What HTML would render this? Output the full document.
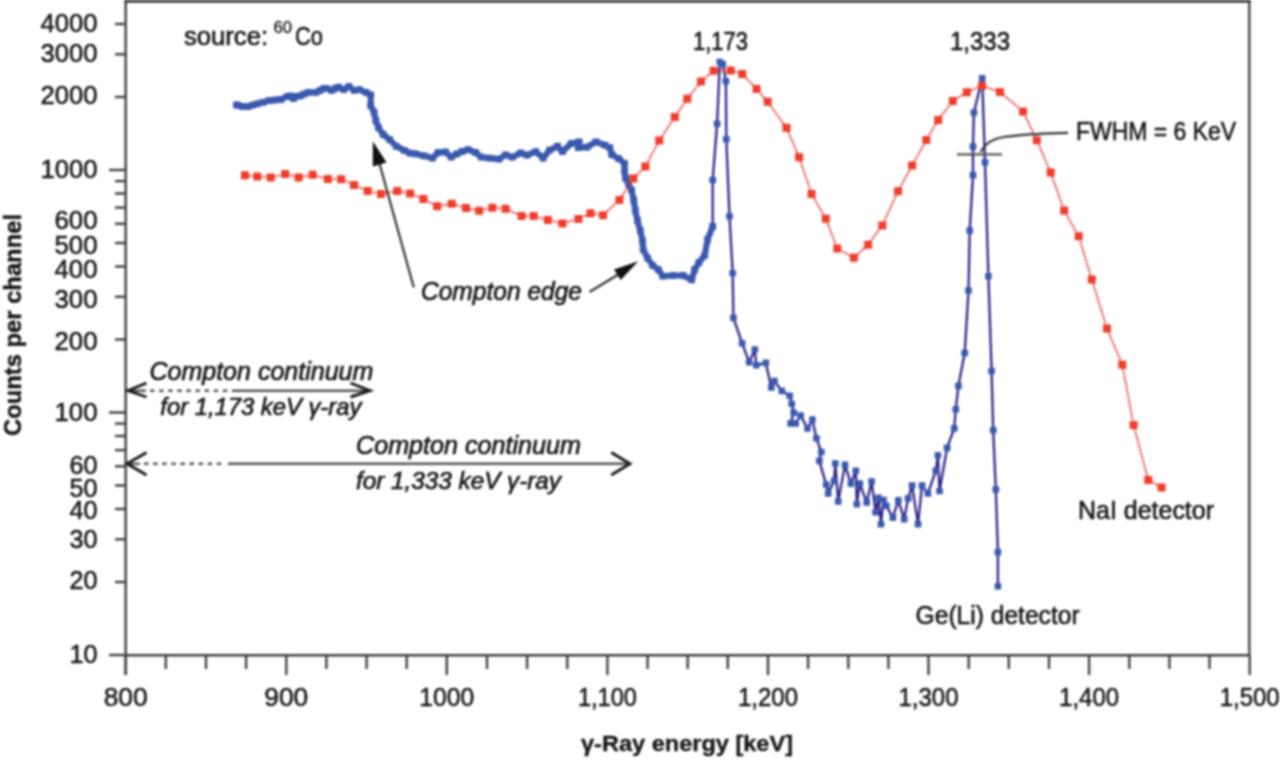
<!DOCTYPE html>
<html><head><meta charset="utf-8"><title>Gamma-ray spectrum</title>
<style>html,body{margin:0;padding:0;background:#fff;overflow:hidden}svg{display:block;font-family:"Liberation Sans",sans-serif;filter:blur(0.85px)}</style>
</head><body>
<svg width="1280" height="760" viewBox="0 0 1280 760">
<rect width="1280" height="760" fill="#fff"/>
<g stroke="#404040" stroke-width="2.4" fill="none">
<path d="M125.7,1 H1249.3 V655.3 H125.7 Z"/><path d="M124.5,0.8 H1250.5" stroke="#2a2a2a" stroke-width="3.2"/>
<path d="M125.7,655.3 V675"/>
<path d="M115,24.0 H125.7"/>
<path d="M115,54.3 H125.7"/>
<path d="M115,97.0 H125.7"/>
<path d="M109,170.0 H125.7"/>
<path d="M115,223.8 H125.7"/>
<path d="M115,243.0 H125.7"/>
<path d="M115,266.5 H125.7"/>
<path d="M115,296.8 H125.7"/>
<path d="M115,339.5 H125.7"/>
<path d="M109,412.5 H125.7"/>
<path d="M115,466.3 H125.7"/>
<path d="M115,485.5 H125.7"/>
<path d="M115,509.0 H125.7"/>
<path d="M115,539.3 H125.7"/>
<path d="M115,582.0 H125.7"/>
<path d="M109,655.0 H125.7"/>
<path d="M115,181.1 H125.7"/>
<path d="M115,193.5 H125.7"/>
<path d="M115,207.6 H125.7"/>
<path d="M115,423.6 H125.7"/>
<path d="M115,436.0 H125.7"/>
<path d="M115,450.1 H125.7"/>
<path d="M125.7,655.3 V675"/>
<path d="M165.8,655.3 V669"/>
<path d="M206.0,655.3 V669"/>
<path d="M246.1,655.3 V669"/>
<path d="M286.3,655.3 V675"/>
<path d="M326.4,655.3 V669"/>
<path d="M366.6,655.3 V669"/>
<path d="M406.7,655.3 V669"/>
<path d="M446.8,655.3 V675"/>
<path d="M487.0,655.3 V669"/>
<path d="M527.1,655.3 V669"/>
<path d="M567.3,655.3 V669"/>
<path d="M607.4,655.3 V675"/>
<path d="M647.6,655.3 V669"/>
<path d="M687.7,655.3 V669"/>
<path d="M727.8,655.3 V669"/>
<path d="M768.0,655.3 V675"/>
<path d="M808.1,655.3 V669"/>
<path d="M848.3,655.3 V669"/>
<path d="M888.4,655.3 V669"/>
<path d="M928.5,655.3 V675"/>
<path d="M968.7,655.3 V669"/>
<path d="M1008.8,655.3 V669"/>
<path d="M1049.0,655.3 V669"/>
<path d="M1089.1,655.3 V675"/>
<path d="M1129.3,655.3 V669"/>
<path d="M1169.4,655.3 V669"/>
<path d="M1209.5,655.3 V669"/>
<path d="M1249.7,655.3 V675"/>
</g>
<g font-family="Liberation Sans, sans-serif" font-size="25" fill="#151515" stroke="#151515" stroke-width="0.5" text-anchor="end">
<text x="97.5" y="31.8" textLength="57" lengthAdjust="spacingAndGlyphs">4000</text>
<text x="97.5" y="61.8" textLength="57" lengthAdjust="spacingAndGlyphs">3000</text>
<text x="97.5" y="103.8" textLength="57" lengthAdjust="spacingAndGlyphs">2000</text>
<text x="97.5" y="178.0" textLength="57" lengthAdjust="spacingAndGlyphs">1000</text>
<text x="97.5" y="228.7" textLength="43" lengthAdjust="spacingAndGlyphs">600</text>
<text x="97.5" y="254.3" textLength="43" lengthAdjust="spacingAndGlyphs">500</text>
<text x="97.5" y="277.6" textLength="43" lengthAdjust="spacingAndGlyphs">400</text>
<text x="97.5" y="308.0" textLength="43" lengthAdjust="spacingAndGlyphs">300</text>
<text x="97.5" y="350.2" textLength="43" lengthAdjust="spacingAndGlyphs">200</text>
<text x="97.5" y="420.5" textLength="43" lengthAdjust="spacingAndGlyphs">100</text>
<text x="97.5" y="473.8" textLength="28" lengthAdjust="spacingAndGlyphs">60</text>
<text x="97.5" y="496.7" textLength="28" lengthAdjust="spacingAndGlyphs">50</text>
<text x="97.5" y="519.3" textLength="28" lengthAdjust="spacingAndGlyphs">40</text>
<text x="97.5" y="547.8" textLength="28" lengthAdjust="spacingAndGlyphs">30</text>
<text x="97.5" y="589.4" textLength="28" lengthAdjust="spacingAndGlyphs">20</text>
<text x="97.5" y="663.3" textLength="28" lengthAdjust="spacingAndGlyphs">10</text>
</g>
<g font-family="Liberation Sans, sans-serif" font-size="25" fill="#151515" stroke="#151515" stroke-width="0.5" text-anchor="middle">
<text x="125.7" y="706" textLength="44" lengthAdjust="spacingAndGlyphs">800</text>
<text x="286.3" y="706" textLength="44" lengthAdjust="spacingAndGlyphs">900</text>
<text x="446.8" y="706" textLength="55" lengthAdjust="spacingAndGlyphs">1000</text>
<text x="607.4" y="706" textLength="59" lengthAdjust="spacingAndGlyphs">1,100</text>
<text x="768.0" y="706" textLength="60" lengthAdjust="spacingAndGlyphs">1,200</text>
<text x="928.5" y="706" textLength="60" lengthAdjust="spacingAndGlyphs">1,300</text>
<text x="1089.1" y="706" textLength="60" lengthAdjust="spacingAndGlyphs">1,400</text>
<text x="1249.7" y="706" textLength="60" lengthAdjust="spacingAndGlyphs">1,500</text>
</g>
<text x="581" y="751" font-family="Liberation Sans, sans-serif" font-size="21.5" font-weight="bold" fill="#151515" stroke="#151515" stroke-width="0.3" textLength="212" lengthAdjust="spacingAndGlyphs">γ-Ray energy [keV]</text>
<text transform="translate(21,436) rotate(-90)" x="0" y="0" font-family="Liberation Sans, sans-serif" font-size="24" font-weight="bold" fill="#151515" stroke="#151515" stroke-width="0.4" textLength="222" lengthAdjust="spacingAndGlyphs">Counts per channel</text>
<polyline points="236.5,105.0 237.8,105.2 242.5,106.5 248.0,106.7 252.5,105.2 257.3,103.8 263.0,102.3 269.0,100.6 275.0,100.0 280.8,99.5 287.0,96.6 290.5,96.0 293.3,98.5 296.0,96.5 300.3,95.8 304.0,94.2 308.1,92.5 316.0,92.3 320.0,90.5 323.8,88.4 326.5,88.5 331.8,90.4 335.0,88.5 338.4,87.1 343.7,89.7 348.9,86.4 354.2,90.4 359.5,89.7 366.0,92.4 370.7,95.0 370.7,105.5 374.0,112.1 375.9,120.7 378.6,127.9 383.2,134.5 389.7,139.7 396.3,146.3 404.2,150.3 410.0,153.2 415.6,153.9 424.1,155.8 432.5,158.1 438.1,152.5 445.6,152.0 451.2,157.2 456.9,153.9 462.0,151.5 468.1,149.7 475.6,152.5 481.2,157.2 489.7,158.1 499.0,159.1 505.6,154.8 512.2,157.2 520.6,153.0 526.9,155.1 535.8,151.7 543.2,158.1 549.6,150.2 557.5,146.2 562.4,151.7 571.3,143.3 579.2,141.8 578.2,147.7 587.1,147.2 596.0,141.8 604.9,145.2 609.8,147.7 611.8,154.6 618.7,158.6 624.6,163.5 624.6,171.4 625.6,178.3 628.6,184.2 631.6,190.1 633.8,200.3 635.3,210.4 637.4,220.5 640.3,230.6 642.5,240.8 643.2,249.5 647.6,258.1 652.6,265.4 658.4,269.7 662.8,276.2 672.9,275.5 683.0,275.5 691.7,279.9 694.6,269.7 698.9,262.5 704.7,255.3 707.6,239.3 712.7,226.3" fill="none" stroke="#3a59ae" stroke-width="6.1" stroke-linejoin="round" stroke-linecap="round"/>
<g fill="#3a59ae">
<rect x="233.1" y="101.6" width="6.8" height="6.8" rx="0.8"/>
<rect x="234.4" y="101.8" width="6.8" height="6.8" rx="0.8"/>
<rect x="239.1" y="103.1" width="6.8" height="6.8" rx="0.8"/>
<rect x="244.6" y="103.3" width="6.8" height="6.8" rx="0.8"/>
<rect x="249.1" y="101.8" width="6.8" height="6.8" rx="0.8"/>
<rect x="253.9" y="100.4" width="6.8" height="6.8" rx="0.8"/>
<rect x="259.6" y="98.9" width="6.8" height="6.8" rx="0.8"/>
<rect x="265.6" y="97.2" width="6.8" height="6.8" rx="0.8"/>
<rect x="271.6" y="96.6" width="6.8" height="6.8" rx="0.8"/>
<rect x="277.4" y="96.1" width="6.8" height="6.8" rx="0.8"/>
<rect x="283.6" y="93.2" width="6.8" height="6.8" rx="0.8"/>
<rect x="287.1" y="92.6" width="6.8" height="6.8" rx="0.8"/>
<rect x="289.9" y="95.1" width="6.8" height="6.8" rx="0.8"/>
<rect x="292.6" y="93.1" width="6.8" height="6.8" rx="0.8"/>
<rect x="296.9" y="92.4" width="6.8" height="6.8" rx="0.8"/>
<rect x="300.6" y="90.8" width="6.8" height="6.8" rx="0.8"/>
<rect x="304.7" y="89.1" width="6.8" height="6.8" rx="0.8"/>
<rect x="312.6" y="88.9" width="6.8" height="6.8" rx="0.8"/>
<rect x="316.6" y="87.1" width="6.8" height="6.8" rx="0.8"/>
<rect x="320.4" y="85.0" width="6.8" height="6.8" rx="0.8"/>
<rect x="323.1" y="85.1" width="6.8" height="6.8" rx="0.8"/>
<rect x="328.4" y="87.0" width="6.8" height="6.8" rx="0.8"/>
<rect x="331.6" y="85.1" width="6.8" height="6.8" rx="0.8"/>
<rect x="335.0" y="83.7" width="6.8" height="6.8" rx="0.8"/>
<rect x="340.3" y="86.3" width="6.8" height="6.8" rx="0.8"/>
<rect x="345.5" y="83.0" width="6.8" height="6.8" rx="0.8"/>
<rect x="350.8" y="87.0" width="6.8" height="6.8" rx="0.8"/>
<rect x="356.1" y="86.3" width="6.8" height="6.8" rx="0.8"/>
<rect x="362.6" y="89.0" width="6.8" height="6.8" rx="0.8"/>
<rect x="367.3" y="91.6" width="6.8" height="6.8" rx="0.8"/>
<rect x="367.3" y="102.1" width="6.8" height="6.8" rx="0.8"/>
<rect x="370.6" y="108.7" width="6.8" height="6.8" rx="0.8"/>
<rect x="372.5" y="117.3" width="6.8" height="6.8" rx="0.8"/>
<rect x="375.2" y="124.5" width="6.8" height="6.8" rx="0.8"/>
<rect x="379.8" y="131.1" width="6.8" height="6.8" rx="0.8"/>
<rect x="386.3" y="136.3" width="6.8" height="6.8" rx="0.8"/>
<rect x="392.9" y="142.9" width="6.8" height="6.8" rx="0.8"/>
<rect x="400.8" y="146.9" width="6.8" height="6.8" rx="0.8"/>
<rect x="406.6" y="149.8" width="6.8" height="6.8" rx="0.8"/>
<rect x="412.2" y="150.5" width="6.8" height="6.8" rx="0.8"/>
<rect x="420.7" y="152.4" width="6.8" height="6.8" rx="0.8"/>
<rect x="429.1" y="154.7" width="6.8" height="6.8" rx="0.8"/>
<rect x="434.7" y="149.1" width="6.8" height="6.8" rx="0.8"/>
<rect x="442.2" y="148.6" width="6.8" height="6.8" rx="0.8"/>
<rect x="447.8" y="153.8" width="6.8" height="6.8" rx="0.8"/>
<rect x="453.5" y="150.5" width="6.8" height="6.8" rx="0.8"/>
<rect x="458.6" y="148.1" width="6.8" height="6.8" rx="0.8"/>
<rect x="464.7" y="146.3" width="6.8" height="6.8" rx="0.8"/>
<rect x="472.2" y="149.1" width="6.8" height="6.8" rx="0.8"/>
<rect x="477.8" y="153.8" width="6.8" height="6.8" rx="0.8"/>
<rect x="486.3" y="154.7" width="6.8" height="6.8" rx="0.8"/>
<rect x="495.6" y="155.7" width="6.8" height="6.8" rx="0.8"/>
<rect x="502.2" y="151.4" width="6.8" height="6.8" rx="0.8"/>
<rect x="508.8" y="153.8" width="6.8" height="6.8" rx="0.8"/>
<rect x="517.2" y="149.6" width="6.8" height="6.8" rx="0.8"/>
<rect x="523.5" y="151.7" width="6.8" height="6.8" rx="0.8"/>
<rect x="532.4" y="148.3" width="6.8" height="6.8" rx="0.8"/>
<rect x="539.8" y="154.7" width="6.8" height="6.8" rx="0.8"/>
<rect x="546.2" y="146.8" width="6.8" height="6.8" rx="0.8"/>
<rect x="554.1" y="142.8" width="6.8" height="6.8" rx="0.8"/>
<rect x="559.0" y="148.3" width="6.8" height="6.8" rx="0.8"/>
<rect x="567.9" y="139.9" width="6.8" height="6.8" rx="0.8"/>
<rect x="575.8" y="138.4" width="6.8" height="6.8" rx="0.8"/>
<rect x="574.8" y="144.3" width="6.8" height="6.8" rx="0.8"/>
<rect x="583.7" y="143.8" width="6.8" height="6.8" rx="0.8"/>
<rect x="592.6" y="138.4" width="6.8" height="6.8" rx="0.8"/>
<rect x="601.5" y="141.8" width="6.8" height="6.8" rx="0.8"/>
<rect x="606.4" y="144.3" width="6.8" height="6.8" rx="0.8"/>
<rect x="608.4" y="151.2" width="6.8" height="6.8" rx="0.8"/>
<rect x="615.3" y="155.2" width="6.8" height="6.8" rx="0.8"/>
<rect x="621.2" y="160.1" width="6.8" height="6.8" rx="0.8"/>
<rect x="621.2" y="168.0" width="6.8" height="6.8" rx="0.8"/>
<rect x="622.2" y="174.9" width="6.8" height="6.8" rx="0.8"/>
<rect x="625.2" y="180.8" width="6.8" height="6.8" rx="0.8"/>
<rect x="628.2" y="186.7" width="6.8" height="6.8" rx="0.8"/>
<rect x="630.4" y="196.9" width="6.8" height="6.8" rx="0.8"/>
<rect x="631.9" y="207.0" width="6.8" height="6.8" rx="0.8"/>
<rect x="634.0" y="217.1" width="6.8" height="6.8" rx="0.8"/>
<rect x="636.9" y="227.2" width="6.8" height="6.8" rx="0.8"/>
<rect x="639.1" y="237.4" width="6.8" height="6.8" rx="0.8"/>
<rect x="639.8" y="246.1" width="6.8" height="6.8" rx="0.8"/>
<rect x="644.2" y="254.7" width="6.8" height="6.8" rx="0.8"/>
<rect x="649.2" y="262.0" width="6.8" height="6.8" rx="0.8"/>
<rect x="655.0" y="266.3" width="6.8" height="6.8" rx="0.8"/>
<rect x="659.4" y="272.8" width="6.8" height="6.8" rx="0.8"/>
<rect x="669.5" y="272.1" width="6.8" height="6.8" rx="0.8"/>
<rect x="679.6" y="272.1" width="6.8" height="6.8" rx="0.8"/>
<rect x="688.3" y="276.5" width="6.8" height="6.8" rx="0.8"/>
<rect x="691.2" y="266.3" width="6.8" height="6.8" rx="0.8"/>
<rect x="695.5" y="259.1" width="6.8" height="6.8" rx="0.8"/>
<rect x="701.3" y="251.9" width="6.8" height="6.8" rx="0.8"/>
<rect x="704.2" y="235.9" width="6.8" height="6.8" rx="0.8"/>
<rect x="709.3" y="222.9" width="6.8" height="6.8" rx="0.8"/>
</g>
<polyline points="712.7,226.3 712.7,180.0 717.1,123.7 719.8,62.0 722.8,64.0 725.9,81.3 726.3,139.3 729.5,216.3 732.7,273.2 733.4,317.9 742.1,343.2 749.2,362.1 754.8,349.5 756.3,365.3 765.8,362.9 771.3,387.4 774.5,381.1 781.8,390.9 789.7,395.8 791.7,403.7 793.7,412.6 790.7,423.4 795.7,423.4 800.6,415.5 807.5,428.4 812.4,419.5 816.4,438.2 821.3,452.0 819.3,460.9 826.2,484.6 828.2,493.5 834.1,480.7 835.3,463.5 838.2,501.4 845.0,464.9 850.9,483.6 855.8,470.8 856.8,504.3 859.8,483.6 866.7,502.4 871.6,481.6 875.6,512.2 878.4,497.9 881.0,524.2 883.5,500.0 886.3,505.8 892.9,517.6 898.3,500.4 904.2,519.1 908.1,498.4 912.1,485.6 918.0,524.1 922.0,485.6 927.9,493.5 935.8,470.8 937.9,455.3 939.5,491.0 947.1,447.9 954.2,428.4 955.8,409.2 958.4,385.9 964.7,353.0 968.5,290.5 969.7,230.6 973.0,175.1 973.0,146.6 973.9,112.5 982.2,78.4 985.0,162.2 988.4,276.3 991.6,371.0 993.2,430.3 995.8,489.5 997.9,552.1 997.9,586.3" fill="none" stroke="#2c2288" stroke-width="2.3" stroke-linejoin="round"/>
<g fill="#3a59ae">
<rect x="709.4" y="223.0" width="6.6" height="6.6" rx="1"/>
<rect x="709.4" y="176.7" width="6.6" height="6.6" rx="1"/>
<rect x="713.8" y="120.4" width="6.6" height="6.6" rx="1"/>
<rect x="716.5" y="58.7" width="6.6" height="6.6" rx="1"/>
<rect x="719.5" y="60.7" width="6.6" height="6.6" rx="1"/>
<rect x="722.6" y="78.0" width="6.6" height="6.6" rx="1"/>
<rect x="723.0" y="136.0" width="6.6" height="6.6" rx="1"/>
<rect x="726.2" y="213.0" width="6.6" height="6.6" rx="1"/>
<rect x="729.4" y="269.9" width="6.6" height="6.6" rx="1"/>
<rect x="730.1" y="314.6" width="6.6" height="6.6" rx="1"/>
<rect x="738.8" y="339.9" width="6.6" height="6.6" rx="1"/>
<rect x="745.9" y="358.8" width="6.6" height="6.6" rx="1"/>
<rect x="751.5" y="346.2" width="6.6" height="6.6" rx="1"/>
<rect x="753.0" y="362.0" width="6.6" height="6.6" rx="1"/>
<rect x="762.5" y="359.6" width="6.6" height="6.6" rx="1"/>
<rect x="768.0" y="384.1" width="6.6" height="6.6" rx="1"/>
<rect x="771.2" y="377.8" width="6.6" height="6.6" rx="1"/>
<rect x="778.5" y="387.6" width="6.6" height="6.6" rx="1"/>
<rect x="786.4" y="392.5" width="6.6" height="6.6" rx="1"/>
<rect x="788.4" y="400.4" width="6.6" height="6.6" rx="1"/>
<rect x="790.4" y="409.3" width="6.6" height="6.6" rx="1"/>
<rect x="787.4" y="420.1" width="6.6" height="6.6" rx="1"/>
<rect x="792.4" y="420.1" width="6.6" height="6.6" rx="1"/>
<rect x="797.3" y="412.2" width="6.6" height="6.6" rx="1"/>
<rect x="804.2" y="425.1" width="6.6" height="6.6" rx="1"/>
<rect x="809.1" y="416.2" width="6.6" height="6.6" rx="1"/>
<rect x="813.1" y="434.9" width="6.6" height="6.6" rx="1"/>
<rect x="818.0" y="448.7" width="6.6" height="6.6" rx="1"/>
<rect x="816.0" y="457.6" width="6.6" height="6.6" rx="1"/>
<rect x="822.9" y="481.3" width="6.6" height="6.6" rx="1"/>
<rect x="824.9" y="490.2" width="6.6" height="6.6" rx="1"/>
<rect x="830.8" y="477.4" width="6.6" height="6.6" rx="1"/>
<rect x="832.0" y="460.2" width="6.6" height="6.6" rx="1"/>
<rect x="834.9" y="498.1" width="6.6" height="6.6" rx="1"/>
<rect x="841.7" y="461.6" width="6.6" height="6.6" rx="1"/>
<rect x="847.6" y="480.3" width="6.6" height="6.6" rx="1"/>
<rect x="852.5" y="467.5" width="6.6" height="6.6" rx="1"/>
<rect x="853.5" y="501.0" width="6.6" height="6.6" rx="1"/>
<rect x="856.5" y="480.3" width="6.6" height="6.6" rx="1"/>
<rect x="863.4" y="499.1" width="6.6" height="6.6" rx="1"/>
<rect x="868.3" y="478.3" width="6.6" height="6.6" rx="1"/>
<rect x="872.3" y="508.9" width="6.6" height="6.6" rx="1"/>
<rect x="875.1" y="494.6" width="6.6" height="6.6" rx="1"/>
<rect x="877.7" y="520.9" width="6.6" height="6.6" rx="1"/>
<rect x="880.2" y="496.7" width="6.6" height="6.6" rx="1"/>
<rect x="883.0" y="502.5" width="6.6" height="6.6" rx="1"/>
<rect x="889.6" y="514.3" width="6.6" height="6.6" rx="1"/>
<rect x="895.0" y="497.1" width="6.6" height="6.6" rx="1"/>
<rect x="900.9" y="515.8" width="6.6" height="6.6" rx="1"/>
<rect x="904.8" y="495.1" width="6.6" height="6.6" rx="1"/>
<rect x="908.8" y="482.3" width="6.6" height="6.6" rx="1"/>
<rect x="914.7" y="520.8" width="6.6" height="6.6" rx="1"/>
<rect x="918.7" y="482.3" width="6.6" height="6.6" rx="1"/>
<rect x="924.6" y="490.2" width="6.6" height="6.6" rx="1"/>
<rect x="932.5" y="467.5" width="6.6" height="6.6" rx="1"/>
<rect x="934.6" y="452.0" width="6.6" height="6.6" rx="1"/>
<rect x="936.2" y="487.7" width="6.6" height="6.6" rx="1"/>
<rect x="943.8" y="444.6" width="6.6" height="6.6" rx="1"/>
<rect x="950.9" y="425.1" width="6.6" height="6.6" rx="1"/>
<rect x="952.5" y="405.9" width="6.6" height="6.6" rx="1"/>
<rect x="955.1" y="382.6" width="6.6" height="6.6" rx="1"/>
<rect x="961.4" y="349.7" width="6.6" height="6.6" rx="1"/>
<rect x="965.2" y="287.2" width="6.6" height="6.6" rx="1"/>
<rect x="966.4" y="227.3" width="6.6" height="6.6" rx="1"/>
<rect x="969.7" y="171.8" width="6.6" height="6.6" rx="1"/>
<rect x="969.7" y="143.3" width="6.6" height="6.6" rx="1"/>
<rect x="970.6" y="109.2" width="6.6" height="6.6" rx="1"/>
<rect x="978.9" y="75.1" width="6.6" height="6.6" rx="1"/>
<rect x="981.7" y="158.9" width="6.6" height="6.6" rx="1"/>
<rect x="985.1" y="273.0" width="6.6" height="6.6" rx="1"/>
<rect x="988.3" y="367.7" width="6.6" height="6.6" rx="1"/>
<rect x="989.9" y="427.0" width="6.6" height="6.6" rx="1"/>
<rect x="992.5" y="486.2" width="6.6" height="6.6" rx="1"/>
<rect x="994.6" y="548.8" width="6.6" height="6.6" rx="1"/>
<rect x="994.6" y="583.0" width="6.6" height="6.6" rx="1"/>
</g>
<polyline points="244.9,175.3 257.3,176.4 270.7,177.6 285.2,173.9 298.6,177.5 312.6,174.8 327.9,179.1 341.2,179.2 354.0,185.0 367.7,191.0 381.0,194.0 397.3,191.0 410.2,193.5 423.4,199.0 437.2,206.3 451.8,203.7 466.0,208.1 479.2,210.8 492.4,207.7 505.6,208.8 521.5,215.9 533.7,215.9 547.9,219.9 562.5,223.4 578.4,218.9 590.5,213.2 603.1,215.2 619.4,200.0 633.3,178.5 645.4,166.4 659.2,140.6 674.8,117.1 687.3,98.8 701.0,81.5 713.6,70.8 730.6,70.4 742.3,73.9 756.6,89.0 767.7,101.7 786.5,127.8 799.1,157.2 811.6,193.9 825.8,218.7 837.3,248.6 853.9,257.7 868.1,244.7 882.3,225.5 898.0,191.3 912.1,165.6 926.3,140.0 938.2,119.9 952.8,101.1 966.8,92.2 982.0,85.7 1000.0,92.0 1023.0,111.4 1036.8,140.3 1050.7,172.5 1064.2,210.5 1078.7,236.3 1091.8,279.5 1107.0,328.6 1122.3,364.8 1133.6,425.0 1148.3,480.0 1161.5,487.4" fill="none" stroke="#e82828" stroke-width="1.8" stroke-dasharray="2.4,1.2"/>
<g fill="#ef3d2b">
<rect x="240.9" y="171.3" width="8" height="8" rx="0.6"/>
<rect x="253.3" y="172.4" width="8" height="8" rx="0.6"/>
<rect x="266.7" y="173.6" width="8" height="8" rx="0.6"/>
<rect x="281.2" y="169.9" width="8" height="8" rx="0.6"/>
<rect x="294.6" y="173.5" width="8" height="8" rx="0.6"/>
<rect x="308.6" y="170.8" width="8" height="8" rx="0.6"/>
<rect x="323.9" y="175.1" width="8" height="8" rx="0.6"/>
<rect x="337.2" y="175.2" width="8" height="8" rx="0.6"/>
<rect x="350.0" y="181.0" width="8" height="8" rx="0.6"/>
<rect x="363.7" y="187.0" width="8" height="8" rx="0.6"/>
<rect x="377.0" y="190.0" width="8" height="8" rx="0.6"/>
<rect x="393.3" y="187.0" width="8" height="8" rx="0.6"/>
<rect x="406.2" y="189.5" width="8" height="8" rx="0.6"/>
<rect x="419.4" y="195.0" width="8" height="8" rx="0.6"/>
<rect x="433.2" y="202.3" width="8" height="8" rx="0.6"/>
<rect x="447.8" y="199.7" width="8" height="8" rx="0.6"/>
<rect x="462.0" y="204.1" width="8" height="8" rx="0.6"/>
<rect x="475.2" y="206.8" width="8" height="8" rx="0.6"/>
<rect x="488.4" y="203.7" width="8" height="8" rx="0.6"/>
<rect x="501.6" y="204.8" width="8" height="8" rx="0.6"/>
<rect x="517.5" y="211.9" width="8" height="8" rx="0.6"/>
<rect x="529.7" y="211.9" width="8" height="8" rx="0.6"/>
<rect x="543.9" y="215.9" width="8" height="8" rx="0.6"/>
<rect x="558.5" y="219.4" width="8" height="8" rx="0.6"/>
<rect x="574.4" y="214.9" width="8" height="8" rx="0.6"/>
<rect x="586.5" y="209.2" width="8" height="8" rx="0.6"/>
<rect x="599.1" y="211.2" width="8" height="8" rx="0.6"/>
<rect x="615.4" y="196.0" width="8" height="8" rx="0.6"/>
<rect x="629.3" y="174.5" width="8" height="8" rx="0.6"/>
<rect x="641.4" y="162.4" width="8" height="8" rx="0.6"/>
<rect x="655.2" y="136.6" width="8" height="8" rx="0.6"/>
<rect x="670.8" y="113.1" width="8" height="8" rx="0.6"/>
<rect x="683.3" y="94.8" width="8" height="8" rx="0.6"/>
<rect x="697.0" y="77.5" width="8" height="8" rx="0.6"/>
<rect x="709.6" y="66.8" width="8" height="8" rx="0.6"/>
<rect x="726.6" y="66.4" width="8" height="8" rx="0.6"/>
<rect x="738.3" y="69.9" width="8" height="8" rx="0.6"/>
<rect x="752.6" y="85.0" width="8" height="8" rx="0.6"/>
<rect x="763.7" y="97.7" width="8" height="8" rx="0.6"/>
<rect x="782.5" y="123.8" width="8" height="8" rx="0.6"/>
<rect x="795.1" y="153.2" width="8" height="8" rx="0.6"/>
<rect x="807.6" y="189.9" width="8" height="8" rx="0.6"/>
<rect x="821.8" y="214.7" width="8" height="8" rx="0.6"/>
<rect x="833.3" y="244.6" width="8" height="8" rx="0.6"/>
<rect x="849.9" y="253.7" width="8" height="8" rx="0.6"/>
<rect x="864.1" y="240.7" width="8" height="8" rx="0.6"/>
<rect x="878.3" y="221.5" width="8" height="8" rx="0.6"/>
<rect x="894.0" y="187.3" width="8" height="8" rx="0.6"/>
<rect x="908.1" y="161.6" width="8" height="8" rx="0.6"/>
<rect x="922.3" y="136.0" width="8" height="8" rx="0.6"/>
<rect x="934.2" y="115.9" width="8" height="8" rx="0.6"/>
<rect x="948.8" y="97.1" width="8" height="8" rx="0.6"/>
<rect x="962.8" y="88.2" width="8" height="8" rx="0.6"/>
<rect x="978.0" y="81.7" width="8" height="8" rx="0.6"/>
<rect x="996.0" y="88.0" width="8" height="8" rx="0.6"/>
<rect x="1019.0" y="107.4" width="8" height="8" rx="0.6"/>
<rect x="1032.8" y="136.3" width="8" height="8" rx="0.6"/>
<rect x="1046.7" y="168.5" width="8" height="8" rx="0.6"/>
<rect x="1060.2" y="206.5" width="8" height="8" rx="0.6"/>
<rect x="1074.7" y="232.3" width="8" height="8" rx="0.6"/>
<rect x="1087.8" y="275.5" width="8" height="8" rx="0.6"/>
<rect x="1103.0" y="324.6" width="8" height="8" rx="0.6"/>
<rect x="1118.3" y="360.8" width="8" height="8" rx="0.6"/>
<rect x="1129.6" y="421.0" width="8" height="8" rx="0.6"/>
<rect x="1144.3" y="476.0" width="8" height="8" rx="0.6"/>
<rect x="1157.5" y="483.4" width="8" height="8" rx="0.6"/>
</g>
<path d="M957,154.3 H1002" stroke="#555" stroke-width="2.2" fill="none"/>
<path d="M980.5,152 C986,143 992,139 1004,137 C1020,134.5 1040,133.5 1068,132.8" stroke="#333" stroke-width="2.2" fill="none"/>
<path d="M413.8,287.5 L378.5,160" stroke="#333" stroke-width="2.2" fill="none"/>
<path d="M372.8,141.3 L372.8,166.5 L386.5,162.5 Z" fill="#111"/>
<path d="M589.5,292 L624,271" stroke="#333" stroke-width="2.2" fill="none"/>
<path d="M638.3,261.2 L614,269.5 L620.7,280 Z" fill="#111"/>
<g stroke="#555" stroke-width="2.4" fill="none">
<path d="M128,390.7 H146"/>
<path d="M150,390.7 H228" stroke-dasharray="4.5,4.6"/>
<path d="M232,390.7 H369"/>
<path d="M128,463.8 H140"/>
<path d="M144,463.8 H224" stroke-dasharray="4.5,4.6"/>
<path d="M228,463.8 H629"/>
</g>
<g stroke="#1a1a1a" stroke-width="2.9" fill="none">
<path d="M146.5,383 L128,390.7 L146.5,397"/>
<path d="M350.5,383 L370,390.7 L350.5,397"/>
<path d="M146.5,452.5 L127,463.8 L146.5,475"/>
<path d="M611.3,452.5 L630,463.8 L611.3,475"/>
</g>
<g font-family="Liberation Sans, sans-serif" font-size="25" fill="#151515" stroke="#151515" stroke-width="0.55">
<text x="184" y="44.5" textLength="84" lengthAdjust="spacingAndGlyphs">source:</text>
<text x="273.6" y="33" font-size="16" stroke-width="0.3" textLength="18.5" lengthAdjust="spacingAndGlyphs">60</text>
<text x="295" y="44.5" textLength="28" lengthAdjust="spacingAndGlyphs">Co</text>
<text x="693" y="49.6" textLength="55" lengthAdjust="spacingAndGlyphs">1,173</text>
<text x="950" y="50" textLength="60" lengthAdjust="spacingAndGlyphs">1,333</text>
<text x="1076" y="140" textLength="160" lengthAdjust="spacingAndGlyphs">FWHM = 6 KeV</text>
<text x="1078" y="518.7" textLength="136" lengthAdjust="spacingAndGlyphs">NaI detector</text>
<text x="915.6" y="623.6" textLength="164" lengthAdjust="spacingAndGlyphs">Ge(Li) detector</text>
</g>
<g font-family="Liberation Sans, sans-serif" font-size="25" font-style="italic" fill="#151515" stroke="#151515" stroke-width="0.65">
<text x="421" y="300" textLength="161" lengthAdjust="spacingAndGlyphs">Compton edge</text>
<text x="149.4" y="379.5" textLength="224" lengthAdjust="spacingAndGlyphs">Compton continuum</text>
<text x="160.3" y="415" font-size="23.5" textLength="201" lengthAdjust="spacingAndGlyphs">for 1,173 keV γ-ray</text>
<text x="356" y="453.75" textLength="225" lengthAdjust="spacingAndGlyphs">Compton continuum</text>
<text x="356" y="489.2" font-size="23.5" textLength="205" lengthAdjust="spacingAndGlyphs">for 1,333 keV γ-ray</text>
</g>
</svg>
</body></html>
